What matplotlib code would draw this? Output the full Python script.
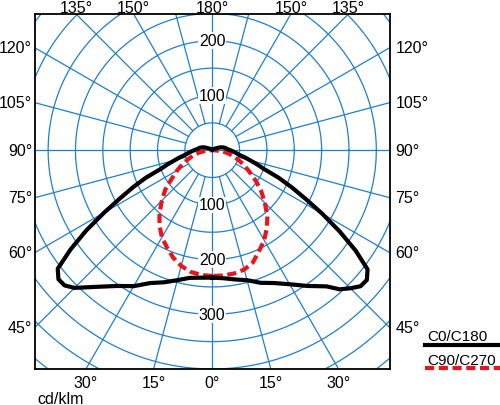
import matplotlib.pyplot as plt
import numpy as np
from matplotlib.lines import Line2D

plt.rcParams['font.family'] = ['Liberation Sans', 'DejaVu Sans']

# gamma angle in degrees from nadir, intensity in cd/klm
gamma = [0, 5, 10, 15, 20, 25, 30, 35, 40, 42.5, 45, 47.5, 50, 52.5, 55, 57.5,
         60, 62.5, 65, 67.5, 70, 72.5, 75, 77.5, 80, 85, 90, 95, 100, 105, 110, 120, 135, 150, 165, 180]
c0 = [233, 234, 237, 246, 257, 268, 287, 303, 326, 340, 356, 366, 367, 356, 316, 273,
      228, 189, 159, 131, 100, 85, 71, 61, 51, 41, 33, 27, 24, 20, 15, 6, 2, 1, 0.5, 0]
c180 = [233, 235, 240, 246, 258, 268, 283, 303, 325, 345, 357, 368, 369, 358, 320, 276,
        232, 192, 160, 131, 101, 86, 72, 61, 51, 41, 33, 27, 24, 20, 15, 6, 2, 1, 0.5, 0]

gamma_b = [0, 5, 10, 15, 20, 25, 30, 35, 40, 45, 50, 55, 60, 65, 70, 75, 80, 85, 90]
c90 = [230, 229, 226, 219, 209, 196, 184, 168, 150, 130, 112, 90, 74, 60, 46, 35, 24, 12, 2]
c270 = [230, 230, 229, 226, 218, 203, 190, 174, 157, 136, 117, 97, 78, 64, 50, 38, 27, 14, 2]

ring_up = [100, 200]
ring_down = [100, 200, 300]
side_labels = [120, 105, 90, 75, 60, 45]
top_labels = [135, 150]
bottom_labels = [30, 15]

grid_c = '#1f7fcc'
red_c = '#e8161c'
xmin, xmax = -324, 325
ymin, ymax = -400, 249

fig = plt.figure(figsize=(5, 4.06), dpi=100)
ax = fig.add_axes([0.07, 0.0887, 0.71, 0.8744])
ax.set_xlim(xmin, xmax)
ax.set_ylim(ymin, ymax)
ax.set_xticks([])
ax.set_yticks([])
for s in ax.spines.values():
    s.set_linewidth(1.3)

# polar grid
t = np.linspace(0, 2 * np.pi, 600)
for r in range(50, 650, 50):
    ax.plot(r * np.cos(t), r * np.sin(t), color=grid_c, lw=0.9, zorder=1)
for a in range(0, 360, 15):
    rad = np.radians(a)
    r0 = 0 if a % 90 == 0 else 50
    ax.plot([r0 * np.cos(rad), 700 * np.cos(rad)], [r0 * np.sin(rad), 700 * np.sin(rad)],
            color=grid_c, lw=0.9, zorder=1)

fs = 11.5
for v in ring_up:
    ax.text(0, v, str(v), ha='center', va='center', fontsize=fs, zorder=2,
            bbox=dict(fc='white', ec='none', pad=0.6))
for v in ring_down:
    ax.text(0, -v, str(v), ha='center', va='center', fontsize=fs, zorder=2,
            bbox=dict(fc='white', ec='none', pad=0.6))


def polar_xy(g, val, side):
    g = np.radians(np.asarray(g, dtype=float))
    val = np.asarray(val, dtype=float)
    return side * val * np.sin(g), -val * np.cos(g)


def edge_point(g, side):
    dx = side * np.sin(np.radians(g))
    dy = -np.cos(np.radians(g))
    ts = []
    if dx > 1e-9:
        ts.append(xmax / dx)
    if dx < -1e-9:
        ts.append(xmin / dx)
    if dy > 1e-9:
        ts.append(ymax / dy)
    if dy < -1e-9:
        ts.append(ymin / dy)
    tt = min(ts)
    return tt * dx, tt * dy


# curves
xl, yl = polar_xy(gamma, c0, -1)
xr, yr = polar_xy(gamma, c180, 1)
ax.plot(np.concatenate([xl, xr[::-1]]), np.concatenate([yl, yr[::-1]]),
        color='black', lw=3, zorder=4, solid_joinstyle='round')
xl, yl = polar_xy(gamma_b, c90, -1)
xr, yr = polar_xy(gamma_b, c270, 1)
ax.plot(np.concatenate([xl, xr[::-1]]), np.concatenate([yl, yr[::-1]]),
        color=red_c, lw=3, zorder=3, dashes=(2.2, 1.1))

# angle labels round the frame
for g in side_labels:
    x, y = edge_point(g, -1)
    ax.annotate(f'{g}°', (x, y), xytext=(-2, 0), textcoords='offset points',
                ha='right', va='center', fontsize=fs, annotation_clip=False)
    x, y = edge_point(g, 1)
    ax.annotate(f'{g}°', (x, y), xytext=(4, 0), textcoords='offset points',
                ha='left', va='center', fontsize=fs, annotation_clip=False)
for g in top_labels:
    for side in (-1, 1):
        x, y = edge_point(g, side)
        ax.annotate(f'{g}°', (x, y), xytext=(0, 1.5), textcoords='offset points',
                    ha='center', va='baseline', fontsize=fs, annotation_clip=False)
ax.annotate('180°', (0, ymax), xytext=(0, 1.5), textcoords='offset points',
            ha='center', va='baseline', fontsize=fs, annotation_clip=False)
for g in bottom_labels:
    for side in (-1, 1):
        x, y = edge_point(g, side)
        ax.annotate(f'{g}°', (x, y), xytext=(0, -4), textcoords='offset points',
                    ha='center', va='top', fontsize=fs, annotation_clip=False)
ax.annotate('0°', (0, ymin), xytext=(0, -4), textcoords='offset points',
            ha='center', va='top', fontsize=fs, annotation_clip=False)

fig.text(37 / 500, 1 - 400 / 406, 'cd/klm', ha='left', va='center', fontsize=fs)

# legend
fig.text(427 / 500, 1 - 337 / 406, 'C0/C180', ha='left', va='center', fontsize=11)
fig.add_artist(Line2D([425 / 500, 1.0], [1 - 346 / 406] * 2, color='black', lw=3))
fig.text(427 / 500, 1 - 361 / 406, 'C90/C270', ha='left', va='center', fontsize=11)
fig.add_artist(Line2D([425 / 500, 1.0], [1 - 369 / 406] * 2, color=red_c, lw=3,
                      dashes=(2.2, 1.1)))

fig.savefig('out.png', dpi=100)
